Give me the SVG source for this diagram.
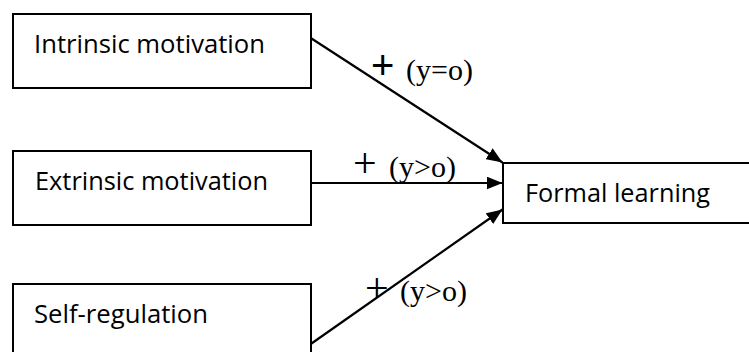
<svg xmlns="http://www.w3.org/2000/svg" width="749" height="352" viewBox="0 0 749 352">
<style>
.box{fill:#fff;stroke:#000;stroke-width:2}
.lbl{font-family:"Open Sans","Liberation Sans",sans-serif;font-size:25.8px;fill:#000}
.rel{font-family:"Liberation Serif","Times New Roman",serif;font-size:30px;fill:#000}
.plus{font-family:"Liberation Serif",serif;font-size:42px;fill:#000}
.edge{stroke:#000;stroke-width:2.2;fill:none}
</style>
<defs>
<marker id="ah" markerUnits="userSpaceOnUse" markerWidth="16" markerHeight="13" refX="16" refY="6.5" orient="auto">
<path d="M0,0 L16,6.5 L0,13 z" fill="#000"/>
</marker>
</defs>
<rect width="749" height="352" fill="#fff"/>
<g id="n-intrinsic">
<rect class="box" x="13" y="14" width="298" height="74"/>
<text class="lbl" x="34" y="53" textLength="231" lengthAdjust="spacingAndGlyphs">Intrinsic motivation</text>
</g>
<g id="n-extrinsic">
<rect class="box" x="13" y="151" width="298" height="74"/>
<text class="lbl" x="35" y="190" textLength="233" lengthAdjust="spacingAndGlyphs">Extrinsic motivation</text>
</g>
<g id="n-selfreg">
<rect class="box" x="13" y="284" width="298" height="80"/>
<text class="lbl" x="34" y="323" textLength="174" lengthAdjust="spacingAndGlyphs">Self-regulation</text>
</g>
<g id="n-formal">
<rect class="box" x="503" y="163" width="260" height="60"/>
<text class="lbl" x="525" y="202" textLength="185" lengthAdjust="spacingAndGlyphs">Formal learning</text>
</g>
<g id="connectors">
<line class="edge" x1="311.5" y1="38.5" x2="502.5" y2="162.5" marker-end="url(#ah)"/>
<line class="edge" x1="311.5" y1="183" x2="502.5" y2="183" marker-end="url(#ah)"/>
<line class="edge" x1="311.5" y1="343.5" x2="502.5" y2="209.5" marker-end="url(#ah)"/>
</g>
<g id="labels">
<text class="plus" x="371" y="79" style="font-family:'Liberation Sans',sans-serif;font-size:40px">+</text>
<text class="rel" x="406" y="80">(y=o)</text>
<text class="plus" x="353" y="177">+</text>
<text class="rel" x="389" y="177">(y&gt;o)</text>
<text class="plus" x="365" y="302">+</text>
<text class="rel" x="400" y="301">(y&gt;o)</text>
</g>
</svg>
